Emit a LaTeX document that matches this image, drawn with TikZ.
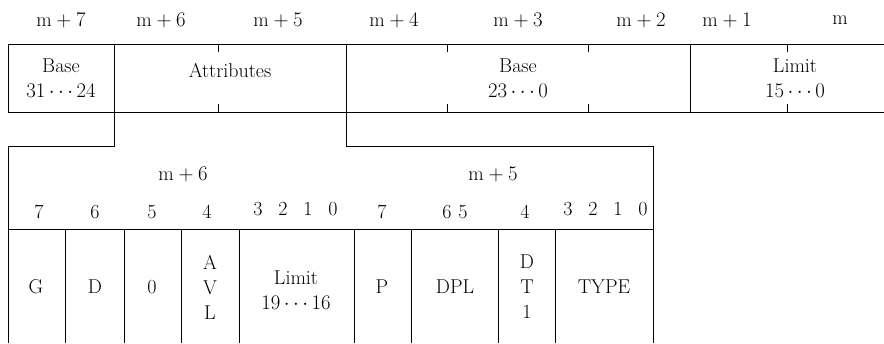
\documentclass[tikz,border=0pt]{standalone}
\usepackage{fontspec}
\begin{document}
\begin{tikzpicture}[x=1pt,y=-1pt,
  txt/.style={inner sep=0pt,font=\fontsize{20}{25}\selectfont,align=center},
  ln/.style={line width=0.9pt,line cap=rect}]
\useasboundingbox (0,0) rectangle (884,343);
% top byte labels
\node[txt] (l7) at (61,20) {$\mathrm{m}+7$};
\node[txt] (l6) at (161,20) {$\mathrm{m}+6$};
\node[txt] (l5) at (278,20) {$\mathrm{m}+5$};
\node[txt] (l4) at (394,20) {$\mathrm{m}+4$};
\node[txt] (l3) at (518,20) {$\mathrm{m}+3$};
\node[txt] (l2) at (641,20) {$\mathrm{m}+2$};
\node[txt] (l1) at (727,20) {$\mathrm{m}+1$};
\node[txt] (l0) at (840,20) {m};
% top descriptor row
\draw[ln] (884,44) -- (8,44) -- (8,112) -- (884,112);
\draw[ln] (114,44) -- (114,112);
\draw[ln] (346,44) -- (346,112);
\draw[ln] (690,44) -- (690,112);
\foreach \x in {218,447,588,787}{
  \draw[ln] (\x,44) -- (\x,52);
  \draw[ln] (\x,104) -- (\x,112);
}
\node[txt] (base1) at (61,78) {Base\\$31\cdots24$};
\node[txt] (attr) at (230,71) {Attributes};
\node[txt] (base2) at (518,78) {Base\\$23\cdots0$};
\node[txt] (lim) at (795,78) {Limit\\$15\cdots0$};
% expansion outline
\draw[ln] (114,112) -- (114,146) -- (8,146) -- (8,343);
\draw[ln] (346,112) -- (346,146) -- (653,146) -- (653,343);
\draw[ln] (8,229) -- (653,229);
\foreach \x in {65,124,181,239,354,411,498,555}{
  \draw[ln] (\x,229) -- (\x,343);
}
\node[txt] (s6) at (183,174) {$\mathrm{m}+6$};
\node[txt] (s5) at (493,174) {$\mathrm{m}+5$};
% bit numbers
\node[txt] (b7a) at (39,212) {7};
\node[txt] (b6a) at (95,212) {6};
\node[txt] (b5a) at (152,212) {5};
\node[txt] (b4a) at (207,212) {4};
\node[txt] (b3a) at (258,209) {3};
\node[txt] (b2a) at (283,209) {2};
\node[txt] (b1a) at (308,209) {1};
\node[txt] (b0a) at (333,209) {0};
\node[txt] (b7b) at (382,212) {7};
\node[txt] (b65b) at (455,212) {6\,\,5};
\node[txt] (b4b) at (525,212) {4};
\node[txt] (b3b) at (568,209) {3};
\node[txt] (b2b) at (593,209) {2};
\node[txt] (b1b) at (618,209) {1};
\node[txt] (b0b) at (643,209) {0};
% fields
\node[txt] (G) at (36,287) {G};
\node[txt] (D) at (95,287) {D};
\node[txt] (Z) at (152,287) {0};
\node[txt] (AVL) at (210,287) {A\\V\\L};
\node[txt] (LIM) at (296,290) {Limit\\$19\cdots16$};
\node[txt] (P) at (382,287) {P};
\node[txt] (DPL) at (455,287) {DPL};
\node[txt] (DT) at (527,287) {D\\T\\1};
\node[txt] (TYPE) at (604,287) {TYPE};
\end{tikzpicture}
\end{document}
